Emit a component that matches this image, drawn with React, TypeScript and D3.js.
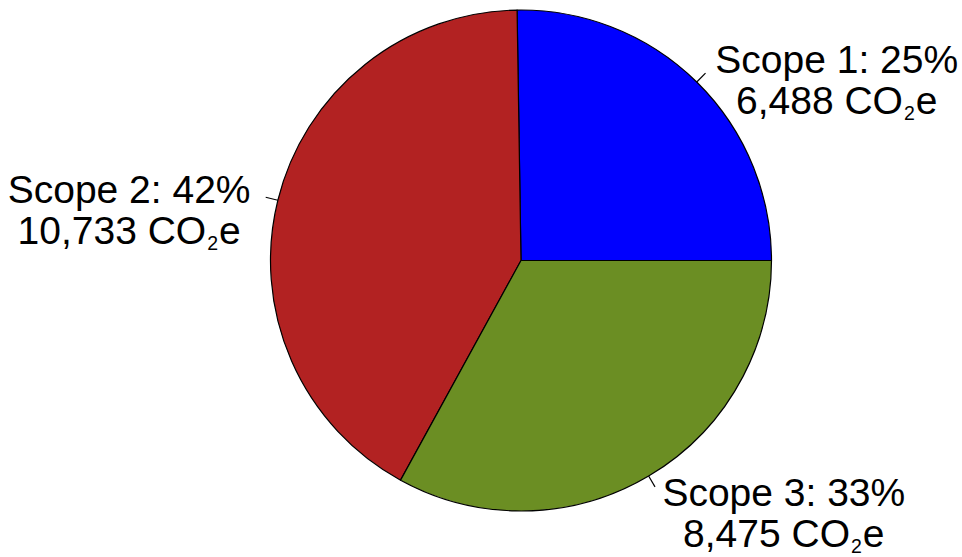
import React, { useEffect, useRef } from "react";
import * as d3 from "d3";

// Emissions by scope, in tonnes CO2e
const scopes = ["Scope 1", "Scope 2", "Scope 3"];
const emissions = [6488, 10733, 8475];
const sliceColors = ["#0000ff", "#b22222", "#6b8e23"];

const WIDTH = 962;
const HEIGHT = 557;
const CX = 521;
const CY = 260.5;
const R = 250.5;
const FONT = "'Liberation Sans', Arial, Helvetica, sans-serif";
const FONT_SIZE = 39;
const LINE_GAP = 41;

export default function App() {
  const ref = useRef<SVGSVGElement | null>(null);

  useEffect(() => {
    const svg = d3.select(ref.current);
    svg.selectAll("*").remove();

    const total = d3.sum(emissions);
    const items = scopes.map((name, i) => ({ name, value: emissions[i], color: sliceColors[i] }));

    // Counter-clockwise from 3 o'clock
    const pie = d3
      .pie<{ name: string; value: number; color: string }>()
      .sort(null)
      .value((d) => d.value)
      .startAngle(Math.PI / 2)
      .endAngle(Math.PI / 2 - 2 * Math.PI);

    const arcs = pie(items);
    const arc = d3.arc<d3.PieArcDatum<any>>().innerRadius(0).outerRadius(R);

    const g = svg.append("g").attr("transform", `translate(${CX},${CY})`);

    g.selectAll("path.slice")
      .data(arcs)
      .join("path")
      .attr("class", "slice")
      .attr("d", arc as any)
      .attr("fill", (d) => d.data.color)
      .attr("stroke", "#000")
      .attr("stroke-width", 1.2)
      .attr("stroke-linejoin", "round");

    const fmt = d3.format(",");

    arcs.forEach((d) => {
      const mid = (d.startAngle + d.endAngle) / 2;
      const sx = Math.sin(mid);
      const sy = -Math.cos(mid);

      // short leader tick
      g.append("line")
        .attr("x1", R * sx)
        .attr("y1", R * sy)
        .attr("x2", R * 1.05 * sx)
        .attr("y2", R * 1.05 * sy)
        .attr("stroke", "#000")
        .attr("stroke-width", 1.2);

      const ax = R * 1.1 * sx;
      const ay = R * 1.1 * sy;
      const leftSide = sx < 0;
      const pct = Math.round((d.data.value / total) * 100);

      const label = g.append("g").attr("font-family", FONT).attr("font-size", FONT_SIZE).attr("fill", "#000");

      const line1 = label
        .append("text")
        .attr("x", leftSide ? ax - 3 : ax + 1)
        .attr("y", ay + 8.5)
        .attr("text-anchor", leftSide ? "end" : "start")
        .text(`${d.data.name}: ${pct}%`);

      const w = (line1.node() as SVGTextElement).getComputedTextLength();
      const centerX = leftSide ? ax - 3 - w / 2 : ax + 1 + w / 2;

      const line2 = label
        .append("text")
        .attr("x", centerX)
        .attr("y", ay + 8.5 + LINE_GAP)
        .attr("text-anchor", "middle");
      line2.append("tspan").text(`${fmt(d.data.value)} CO`);
      line2
        .append("tspan")
        .attr("font-size", FONT_SIZE * 0.5)
        .attr("dx", 1)
        .attr("dy", 6)
        .text("2");
      line2.append("tspan").attr("dx", 1).attr("dy", -6).text("e");
    });
  }, []);

  return (
    <svg
      ref={ref}
      width={WIDTH}
      height={HEIGHT}
      style={{ position: "absolute", left: 0, top: 0, background: "#fff" }}
    />
  );
}
